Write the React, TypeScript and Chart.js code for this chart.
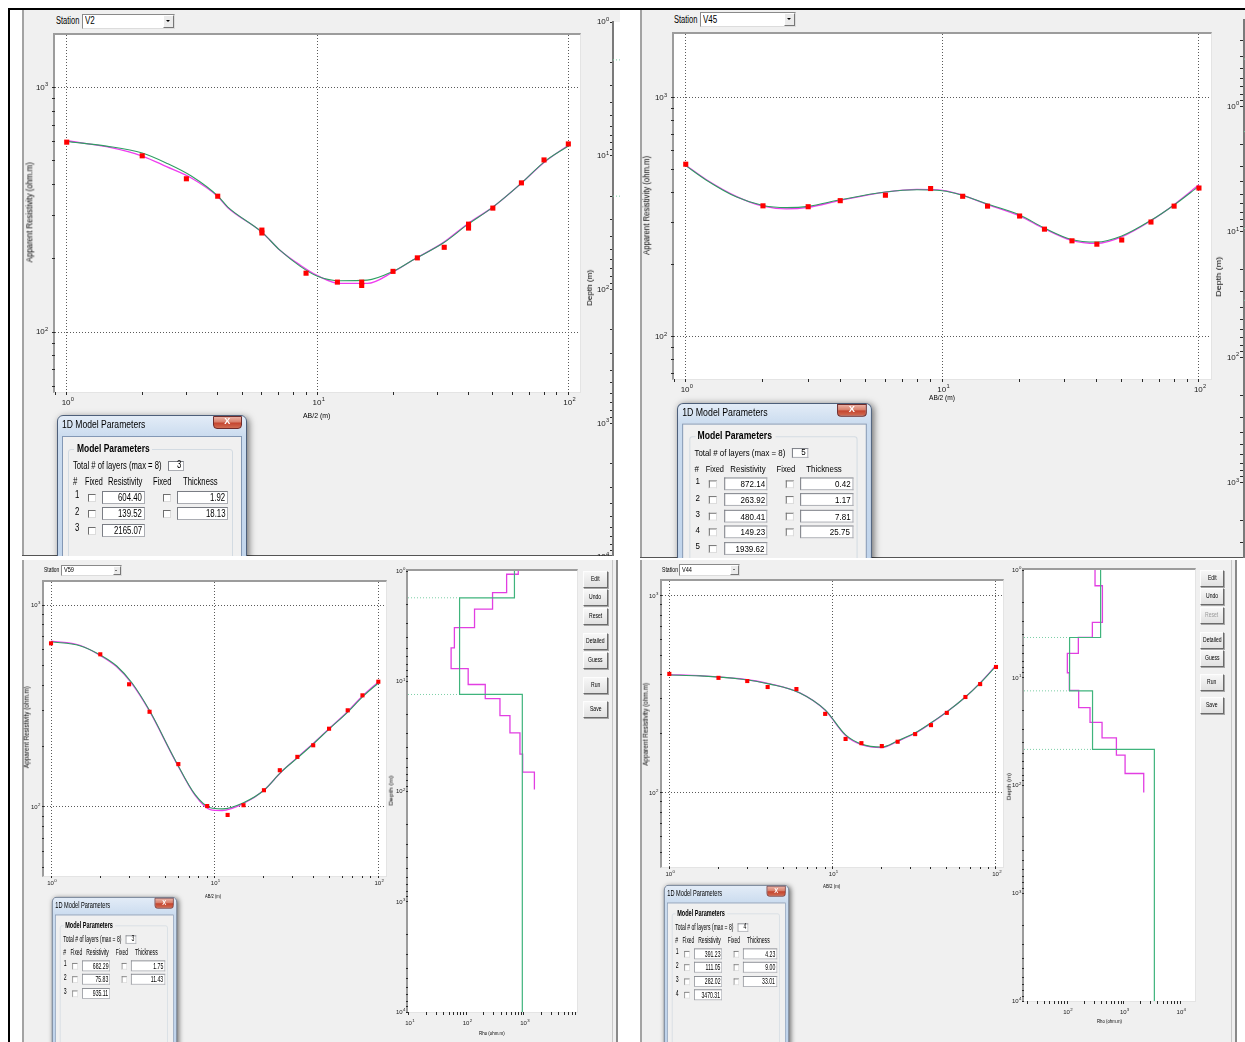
import React, { useEffect, useRef } from 'react';
import { Chart, registerables } from 'chart.js';
Chart.register(...registerables);

const FONT = '"Liberation Sans", Arial, Helvetica, sans-serif';

// ===== Station V2 =====
const V2_AB2 = [1, 2, 3, 4, 6, 6, 9, 12, 15, 15, 20, 25, 32, 40, 40, 50, 65, 80, 100];
const V2_RHO = [597, 525, 423, 359, 261, 254, 174, 160, 160, 155, 177, 201, 222, 276, 266, 321, 407, 505, 587];
const V2_CURVE_AB2 = [1, 1.44, 2, 2.5, 3.15, 4, 4.39, 6, 7.08, 8.51, 10, 12.3, 15.8, 20, 24, 31.7, 39.5, 50, 65, 80, 100];
const V2_GREEN = [601, 575, 539, 490, 433, 360, 324, 256, 216, 186, 169, 162, 163, 177, 197, 231, 274, 324, 406, 495, 576];
const V2_MAGENTA = [605, 572, 524, 474, 425, 358, 322, 256, 216, 188, 170, 158, 158, 176, 197, 232, 276, 324, 406, 493, 580];
const V2_LAYER_RHO = [604.4, 139.52, 2165.07];
const V2_LAYER_THICK = [1.92, 18.13];

// ===== Station V45 =====
const V45_AB2 = [1, 2, 3, 4, 6, 9, 12, 15, 20, 25, 32, 40, 50, 65, 80, 100];
const V45_RHO = [527, 353, 350, 371, 391, 417, 387, 352, 320, 282, 252, 244, 254, 302, 352, 419];
const V45_CURVE_AB2 = [1, 1.2, 1.58, 2, 2.47, 3, 4, 6, 7.96, 10, 11.75, 15, 20, 25, 31.6, 40, 50, 65, 80, 100];
const V45_GREEN = [520, 453, 384, 354, 347, 351, 374, 403, 412, 408, 393, 359, 323, 285, 256, 249, 264, 307, 356, 427];
const V45_MAGENTA = [522, 455, 386, 352, 343, 348, 372, 403, 414, 410, 394, 357, 320, 283, 254, 246, 262, 306, 357, 432];
const V45_LAYER_RHO = [872.14, 263.92, 480.41, 149.23, 1939.62];
const V45_LAYER_THICK = [0.42, 1.17, 7.81, 25.75];

// ===== Station V59 =====
const V59_AB2 = [1, 2, 3, 4, 6, 9, 12, 15, 20, 25, 32, 40, 50, 65, 80, 100];
const V59_RHO = [646, 570, 405, 296, 163, 101, 91.3, 102, 121, 152, 177, 202, 244, 301, 357, 417];
const V59_CURVE_AB2 = [1, 1.5, 2, 2.52, 3.12, 4, 5.73, 7.6, 9.4, 11.1, 15, 20, 25.5, 32.6, 40, 50, 65, 80, 100];
const V59_GREEN = [658, 629, 566, 499, 412, 300, 171, 115, 99, 97.8, 105, 121, 149, 177, 205, 243, 295, 351, 411];
const V59_MAGENTA = [662, 632, 562, 494, 408, 298, 170, 114, 97, 96, 104, 121, 149, 178, 206, 244, 297, 354, 416];
const V59_LAYER_RHO = [682.29, 75.83, 935.11];
const V59_LAYER_THICK = [1.75, 11.43];
const V59_SMOOTH_RHO = [795, 499, 284, 138, 61.6, 54, 107, 212, 382, 570, 851, 948, 1517];
const V59_SMOOTH_BOTTOM = [1.07, 1.57, 2.22, 3.26, 4.99, 7.68, 10.7, 14.4, 20.5, 29.4, 45.8, 66.8, 96];

// ===== Station V44 =====
const V44_AB2 = [1, 2, 3, 4, 6, 9, 12, 15, 20, 25, 32, 40, 50, 65, 80, 100];
const V44_RHO = [402, 384, 370, 345, 337, 252, 188, 179, 173, 182, 199, 221, 255, 307, 357, 436];
const V44_CURVE_AB2 = [1, 1.54, 2.71, 4.13, 6.3, 9, 12, 15, 20, 25, 32, 40, 50, 65, 80, 100];
const V44_GREEN = [397, 393, 379, 357, 322, 264, 197, 177, 171, 184, 202, 227, 258, 307, 361, 441];
const V44_MAGENTA = [399, 394, 380, 358, 322, 263, 196, 176, 170, 183, 201, 226, 258, 307, 362, 444];
const V44_LAYER_RHO = [391.23, 111.05, 282.02, 3470.31];
const V44_LAYER_THICK = [4.23, 9.0, 33.01];
const V44_SMOOTH_RHO = [312, 421, 280, 158.5, 101.4, 110, 160.6, 254.6, 415, 743, 1057, 2254];
const V44_SMOOTH_BOTTOM = [1.4, 3.06, 4.22, 5.94, 8.99, 13.1, 18.9, 26.0, 36.1, 52.3, 77.4, 116];

const BUTTONS = ['Edit', 'Undo', 'Reset', 'Detailed', 'Guess', 'Run', 'Save'];

// ---------- helpers ----------
function isDecade(v: number) {
  const l = Math.log10(v);
  return Math.abs(l - Math.round(l)) < 1e-6;
}
function logTicks(min: number, max: number) {
  const out: number[] = [];
  for (let e = Math.floor(Math.log10(min)); e <= Math.ceil(Math.log10(max)); e++) {
    for (let m = 1; m < 10; m++) {
      const v = Number((m * Math.pow(10, e)).toPrecision(6));
      if (v >= min && v <= max) out.push(v);
    }
  }
  return out;
}
function cumulative(th: number[]) {
  const out: number[] = [];
  let s = 0;
  th.forEach((t) => { s += t; out.push(s); });
  return out;
}
function stepPoints(rho: number[], bottoms: number[], top: number, base: number) {
  const pts: { x: number; y: number }[] = [];
  let d = top;
  for (let i = 0; i < rho.length; i++) {
    const next = i < bottoms.length ? bottoms[i] : base;
    pts.push({ x: rho[i], y: d });
    pts.push({ x: rho[i], y: next });
    d = next;
  }
  return pts;
}

const mctx = document.createElement('canvas').getContext('2d') as CanvasRenderingContext2D;
function measure(text: string, size: number, bold?: boolean) {
  mctx.font = `${bold ? 'bold ' : ''}${size}px ${FONT}`;
  return mctx.measureText(text).width || 1;
}

// Draws "10" with a raised exponent at every decade tick of the chart's own scales.
const supPlugin = {
  id: 'supLabels',
  afterDraw(chart: any, _a: any, opts: any) {
    const ctx = chart.ctx;
    const ca = chart.chartArea;
    ['x', 'y'].forEach((k) => {
      const o = opts[k];
      if (!o || o.show === false) return;
      const s = chart.scales[k];
      const f = o.font;
      ctx.save();
      ctx.fillStyle = '#1a1a1a';
      ctx.textAlign = 'left';
      ctx.textBaseline = 'alphabetic';
      for (const t of s.ticks) {
        if (!isDecade(t.value)) continue;
        const p = s.getPixelForValue(t.value);
        const e = String(Math.round(Math.log10(t.value)));
        ctx.font = `${f}px ${FONT}`;
        const w1 = ctx.measureText('10').width;
        ctx.font = `${f * 0.72}px ${FONT}`;
        const w2 = ctx.measureText(e).width;
        let x0: number, yb: number;
        if (k === 'y') {
          x0 = ca.left - o.tickLen - o.pad - w1 - w2;
          yb = p + f * 0.3;
        } else {
          x0 = p - (w1 + w2) / 2 + w2 * 0.3;
          yb = ca.bottom + o.tickLen + o.pad + f * 0.95;
        }
        ctx.font = `${f}px ${FONT}`;
        ctx.fillText('10', x0, yb);
        ctx.font = `${f * 0.72}px ${FONT}`;
        ctx.fillText(e, x0 + w1 + 0.3, yb - f * 0.42);
      }
      ctx.restore();
    });
  },
};

function Txt({ x, cy, text, size, w, sx, bold, color, anchor = 'left' }: any) {
  const nat = measure(text, size, bold);
  const s = w ? w / nat : sx ?? 0.8;
  const vis = nat * s;
  const left = anchor === 'left' ? x : anchor === 'right' ? x - vis : x - vis / 2;
  return (
    <div
      style={{
        position: 'absolute', left, top: cy - size * 0.62, height: size * 1.2, lineHeight: `${size * 1.2}px`,
        fontSize: size, fontFamily: FONT, fontWeight: bold ? 700 : 400, color: color ?? '#000',
        whiteSpace: 'nowrap', transform: `scaleX(${s})`, transformOrigin: '0 0',
      }}
    >
      {text}
    </div>
  );
}

function VText({ cx, cy, text, size, len }: any) {
  const nat = measure(text, size);
  const s = len / nat;
  return (
    <div
      style={{
        position: 'absolute', left: cx - nat / 2, top: cy - size * 0.6, width: nat, height: size * 1.2,
        lineHeight: `${size * 1.2}px`, fontSize: size, fontFamily: FONT, whiteSpace: 'nowrap', color: '#000',
        transform: `rotate(-90deg) scaleX(${s})`, transformOrigin: 'center',
      }}
    >
      {text}
    </div>
  );
}

function Box({ l, t, w, h, bg = '#fff', c = '#abadb3', ct = '#7a7d84' }: any) {
  return (
    <div
      style={{
        position: 'absolute', left: l, top: t, width: w, height: h, boxSizing: 'border-box', background: bg,
        border: `1px solid ${c}`, borderTopColor: ct, borderLeftColor: ct,
      }}
    />
  );
}

function Check({ l, t, s }: any) {
  return (
    <div
      style={{
        position: 'absolute', left: l, top: t, width: s, height: s, boxSizing: 'border-box', background: '#fff',
        border: '1px solid', borderColor: '#6f6f6f #dcdcdc #dcdcdc #6f6f6f',
      }}
    />
  );
}

function Frame({ a }: any) {
  return (
    <div
      style={{
        position: 'absolute', left: a.l - 2, top: a.t - 2, width: a.r - a.l + 3, height: a.b - a.t + 3,
        boxSizing: 'border-box', background: '#fff', borderTop: '2px solid #9c9c9c', borderLeft: '2px solid #9c9c9c',
        borderRight: '1px solid #e4e4e4', borderBottom: '1px solid #e4e4e4',
      }}
    />
  );
}

function axisOpts(a: any, size: number, horiz: boolean) {
  const tv = logTicks(a.min, a.max);
  return {
    type: 'logarithmic',
    display: a.show !== false,
    position: horiz ? 'bottom' : 'left',
    min: a.min,
    max: a.max,
    reverse: !!a.reverse,
    afterBuildTicks: (s: any) => { s.ticks = tv.map((v) => ({ value: v })); },
    afterFit: (s: any) => {
      if (a.show === false) return;
      if (horiz) s.height = size; else s.width = size;
    },
    ticks: { display: false, autoSkip: false, maxRotation: 0, minRotation: 0 },
    grid: {
      display: true, drawOnChartArea: !!a.grid, drawTicks: true, tickLength: a.tickLen ?? 3,
      tickColor: '#2a2a2a', tickWidth: 1, lineWidth: 1,
      color: (c: any) => (c.tick && isDecade(c.tick.value) ? '#5a5a5a' : 'rgba(0,0,0,0)'),
    },
    border: { display: !!a.line, color: '#7a7a7a', width: 2, dash: [1, 2] },
  };
}

function LogChart({ area, x, y, yW, xH, datasets }: any) {
  const ref = useRef<HTMLCanvasElement>(null);
  const PT = 14, PR = 14, PB = 4;
  const yw = y.show !== false ? yW : 0;
  const xh = x.show !== false ? xH : 0;
  const W = area.r - area.l + yw + PR;
  const H = area.b - area.t + PT + xh + PB;
  useEffect(() => {
    const chart = new Chart(ref.current as HTMLCanvasElement, {
      type: 'scatter',
      data: { datasets },
      plugins: [supPlugin],
      options: {
        animation: false, responsive: false, devicePixelRatio: 1, events: [],
        layout: { padding: { left: 0, top: PT, right: PR, bottom: PB } },
        plugins: {
          legend: { display: false }, tooltip: { enabled: false },
          supLabels: {
            x: { show: x.show, font: x.font ?? 8, tickLen: x.tickLen ?? 3, pad: x.pad ?? 3 },
            y: { show: y.show, font: y.font ?? 8, tickLen: y.tickLen ?? 3, pad: y.pad ?? 3 },
          },
        },
        scales: { x: axisOpts(x, xh, true), y: axisOpts(y, yw, false) },
      },
    } as any);
    return () => chart.destroy();
  }, []);
  return (
    <canvas ref={ref} width={W} height={H}
      style={{ position: 'absolute', left: area.l - yw, top: area.t - PT, width: W, height: H }} />
  );
}

function mainDatasets(cAB2: number[], green: number[], magenta: number[], ab2: number[], rho: number[], r: number) {
  return [
    { data: cAB2.map((x, i) => ({ x, y: magenta[i] })), showLine: true, borderColor: '#ef3cef', borderWidth: 1.3,
      pointRadius: 0, cubicInterpolationMode: 'monotone', order: 3 },
    { data: cAB2.map((x, i) => ({ x, y: green[i] })), showLine: true, borderColor: '#2e9e62', borderWidth: 1.1,
      pointRadius: 0, cubicInterpolationMode: 'monotone', order: 2 },
    { data: ab2.map((x, i) => ({ x, y: rho[i] })), showLine: false, pointStyle: 'rect', pointRadius: r,
      pointBackgroundColor: '#ff0000', pointBorderColor: '#ff0000', pointBorderWidth: 0, order: 1 },
  ];
}

function depthDatasets(lr: number[], lt: number[], xmin: number, sr?: number[], sb?: number[]) {
  const bottoms = cumulative(lt);
  const ds: any[] = bottoms.map((d, i) => ({
    data: [{ x: xmin, y: d }, { x: Math.min(lr[i], lr[i + 1]), y: d }], showLine: true,
    borderColor: '#7ccfa6', borderWidth: 1, borderDash: [1, 2], pointRadius: 0, order: 4,
  }));
  if (sr && sb) {
    ds.push({ data: stepPoints(sr, sb, 1, 1), showLine: true, borderColor: '#e23ee2', borderWidth: 1.3,
      pointRadius: 0, order: 3 });
  }
  ds.push({ data: stepPoints(lr, bottoms, 1, 10000), showLine: true, borderColor: '#3fb47c', borderWidth: 1.2,
    pointRadius: 0, order: 2 });
  return ds;
}

function Station({ lx, cy, lw, fs, box, value }: any) {
  const h = box.b - box.t;
  const aw = Math.round(h * 0.72);
  const tri = fs * 0.28;
  return (
    <>
      <Txt x={lx} cy={cy} text="Station" size={fs} w={lw} />
      <div style={{ position: 'absolute', left: box.l, top: box.t, width: box.r - box.l, height: h, boxSizing: 'border-box',
        background: '#fff', border: '1px solid', borderColor: '#8a8a8a #dcdcdc #dcdcdc #8a8a8a' }} />
      <div style={{ position: 'absolute', left: box.r - aw - 1, top: box.t + 1, width: aw, height: h - 2, boxSizing: 'border-box',
        background: '#ebebeb', border: '1px solid', borderColor: '#fff #777 #777 #fff' }} />
      <div style={{ position: 'absolute', left: box.r - 1 - aw / 2 - tri, top: box.t + h / 2 - tri * 0.4, width: 0, height: 0,
        borderLeft: `${tri}px solid transparent`, borderRight: `${tri}px solid transparent`, borderTop: `${tri}px solid #000` }} />
      <Txt x={box.l + 3} cy={cy} text={value} size={fs} sx={0.8} />
    </>
  );
}

function Dialog({ ox, oy, sx, sy, rho, thick }: any) {
  const n = rho.length;
  const fs = 10;
  const sc = 0.78;
  return (
    <div style={{ position: 'absolute', left: ox, top: oy, width: 190, height: 230, transform: `scale(${sx},${sy})`, transformOrigin: '0 0' }}>
      <div style={{ position: 'absolute', left: 0, top: 0, width: 190, height: 230, boxSizing: 'border-box',
        border: '1px solid #4d5f7a', borderRadius: '6px 6px 0 0',
        background: 'linear-gradient(180deg, #e3ecf7 0px, #cbdcef 20px, #bcd1ea 100%)', boxShadow: '2px 2px 7px rgba(0,0,0,0.55)' }} />
      <Txt x={5} cy={10} text="1D Model Parameters" size={10.5} w={83.3} />
      <div style={{ position: 'absolute', left: 156, top: 0.5, width: 29, height: 13, boxSizing: 'border-box',
        border: '1px solid #6d2b2b', borderRadius: '0 0 4px 4px',
        background: 'linear-gradient(180deg,#eab0a3 0%,#d8806c 45%,#c5452f 55%,#d06c52 100%)' }} />
      <Txt x={170.5} cy={6.8} text="X" size={9} sx={1} bold anchor="center" color="#fff" />
      <div style={{ position: 'absolute', left: 5, top: 21, width: 180.3, height: 209, boxSizing: 'border-box',
        background: '#f0f0f0', border: '1px solid #8398b5' }} />
      <div style={{ position: 'absolute', left: 11.6, top: 34.3, width: 164.7, height: 190, boxSizing: 'border-box',
        border: '1px solid #d3dbe2', borderRadius: 3 }} />
      <div style={{ position: 'absolute', left: 17.5, top: 29, width: 78, height: 10, background: '#f0f0f0' }} />
      <Txt x={20} cy={34} text="Model Parameters" size={10.5} bold w={72.6} />
      <Txt x={16.6} cy={50.7} text="Total # of  layers (max = 8)" size={fs} w={90.7} />
      <Box l={111.6} t={45.5} w={16} h={10.6} />
      <Txt x={125} cy={50.5} text={String(n)} size={fs} sx={sc} anchor="right" />
      <Txt x={16.6} cy={67.3} text="#" size={fs} sx={sc} />
      <Txt x={28.3} cy={67.3} text="Fixed" size={fs} w={17.7} />
      <Txt x={51.6} cy={67.3} text="Resistivity" size={fs} w={34.4} />
      <Txt x={96.6} cy={67.3} text="Fixed" size={fs} w={18.4} />
      <Txt x={126} cy={67.3} text="Thickness" size={fs} w={34.6} />
      {rho.map((r: number, i: number) => {
        const top = 75.7 + 16.5 * i;
        return (
          <React.Fragment key={i}>
            <Txt x={18.3} cy={top + 4.8} text={String(i + 1)} size={fs} sx={sc} />
            <Check l={31} t={top + 3} s={8.3} />
            <Box l={45.6} t={top} w={42.7} h={13.3} />
            <Txt x={85.6} cy={top + 7} text={r.toFixed(2)} size={fs} sx={sc} anchor="right" />
            {i < n - 1 && (
              <>
                <Check l={106} t={top + 3} s={8.3} />
                <Box l={120} t={top} w={51.6} h={13.3} />
                <Txt x={168.8} cy={top + 7} text={thick[i].toFixed(2)} size={fs} sx={sc} anchor="right" />
              </>
            )}
          </React.Fragment>
        );
      })}
    </div>
  );
}

function Buttons({ x, w, tops, fs, disabled }: any) {
  return (
    <>
      {BUTTONS.map((b, i) => (
        <React.Fragment key={b}>
          <div style={{ position: 'absolute', left: x, top: tops[i], width: w, height: 17, boxSizing: 'border-box',
            background: 'linear-gradient(#f7f7f7,#e1e1e1)', border: '1px solid', borderColor: '#fdfdfd #6b6b6b #6b6b6b #fdfdfd',
            boxShadow: '1px 1px 0 #a7a7a7' }} />
          <Txt x={x + w / 2} cy={tops[i] + 8.3} text={b} size={fs} sx={0.72} anchor="center"
            color={disabled === b ? '#9a9a9a' : '#000'} />
        </React.Fragment>
      ))}
    </>
  );
}

function Panel({ l, t, r, b, children }: any) {
  return (
    <div style={{ position: 'absolute', left: 0, top: 0, width: 1245, height: 1042,
      clipPath: `inset(${t}px ${1245 - r}px ${1042 - b}px ${l}px)` }}>
      <div style={{ position: 'absolute', left: l, top: t, width: r - l, height: b - t, background: '#f0f0f0' }} />
      <div style={{ position: 'absolute', left: l, top: t, width: 2, height: b - t, background: '#a3a3a3' }} />
      {children}
    </div>
  );
}

// ---------- layout constants ----------
const TL_MAIN = { l: 55, t: 35, r: 580, b: 392 };
const TL_DEPTH = { l: 613, t: 22, r: 782, b: 557 };
const TR_MAIN = { l: 674, t: 34, r: 1211, b: 379 };
const TR_DEPTH = { l: 1244, t: 20, r: 1414, b: 558 };
const BL_MAIN = { l: 44, t: 582, r: 386, b: 876 };
const BL_DEPTH = { l: 408, t: 571, r: 577, b: 1012 };
const BR_MAIN = { l: 662, t: 581, r: 1003, b: 867 };
const BR_DEPTH = { l: 1024, t: 570, r: 1195, b: 1001 };

export default function App() {
  const bigX = { font: 8, tickLen: 3, pad: 2, grid: true };
  const bigY = { font: 8, tickLen: 3, pad: 4, grid: true };
  const smX = { font: 6, tickLen: 2, pad: 1, grid: true };
  const smY = { font: 6, tickLen: 2, pad: 2, grid: true };
  return (
    <div style={{ position: 'absolute', left: 0, top: 0, width: 1245, height: 1042, overflow: 'hidden', background: '#fff' }}>
      <div style={{ position: 'absolute', left: 8, top: 8, width: 1237, height: 2, background: '#000' }} />
      <div style={{ position: 'absolute', left: 8, top: 8, width: 2, height: 1034, background: '#000' }} />

      {/* ---------- Top-left: V2 ---------- */}
      <Panel l={22} t={10} r={620} b={556}>
        <div style={{ position: 'absolute', left: 22, top: 555, width: 598, height: 1, background: '#555' }} />
        <Station lx={56} cy={21.5} lw={23.3} fs={10} box={{ l: 82, t: 14, r: 175, b: 29 }} value="V2" />
        <Frame a={TL_MAIN} />
        <LogChart area={TL_MAIN} x={{ ...bigX, min: 0.898, max: 111.3 }} y={{ ...bigY, min: 56.9, max: 1636 }} yW={33} xH={18}
          datasets={mainDatasets(V2_CURVE_AB2, V2_GREEN, V2_MAGENTA, V2_AB2, V2_RHO, 3.6)} />
        <Txt x={302.7} cy={415.7} text="AB/2 (m)" size={8} w={27.3} />
        <VText cx={30} cy={212} text="Apparent Resistivity (ohm.m)" size={9} len={100} />
        <div style={{ position: 'absolute', left: 614, top: 22, width: 8, height: 535, background: '#fff' }} />
        <LogChart area={TL_DEPTH} x={{ show: false, min: 9.61, max: 8356 }}
          y={{ min: 1, max: 10000, reverse: true, font: 8, tickLen: 3, pad: 1, line: true }} yW={26} xH={0}
          datasets={depthDatasets(V2_LAYER_RHO, V2_LAYER_THICK, 9.61)} />
        <VText cx={590} cy={288} text="Depth (m)" size={8} len={36} />
        <Dialog ox={56.7} oy={415} sx={1} sy={1} rho={V2_LAYER_RHO} thick={V2_LAYER_THICK} />
      </Panel>

      {/* ---------- Top-right: V45 ---------- */}
      <Panel l={640} t={10} r={1245} b={558}>
        <div style={{ position: 'absolute', left: 640, top: 557, width: 605, height: 1, background: '#555' }} />
        <Station lx={674.3} cy={19.7} lw={23.4} fs={10} box={{ l: 700, t: 12, r: 796, b: 27 }} value="V45" />
        <Frame a={TR_MAIN} />
        <LogChart area={TR_MAIN} x={{ ...bigX, min: 0.9, max: 111.4 }} y={{ ...bigY, min: 66.6, max: 1847 }} yW={33} xH={18}
          datasets={mainDatasets(V45_CURVE_AB2, V45_GREEN, V45_MAGENTA, V45_AB2, V45_RHO, 3.6)} />
        <Txt x={929} cy={398} text="AB/2 (m)" size={8} w={26} />
        <VText cx={647} cy={205} text="Apparent Resistivity (ohm.m)" size={9} len={99} />
        <LogChart area={TR_DEPTH} x={{ show: false, min: 9.61, max: 8356 }}
          y={{ min: 0.205, max: 3980, reverse: true, font: 8, tickLen: 4, pad: 1, line: true }} yW={28} xH={0}
          datasets={depthDatasets(V45_LAYER_RHO, V45_LAYER_THICK, 9.61)} />
        <VText cx={1219} cy={277} text="Depth (m)" size={8} len={40} />
        <Dialog ox={676.7} oy={403.3} sx={1.026} sy={0.98} rho={V45_LAYER_RHO} thick={V45_LAYER_THICK} />
      </Panel>

      {/* ---------- Bottom-left: V59 ---------- */}
      <Panel l={22} t={560} r={618} b={1042}>
        <div style={{ position: 'absolute', left: 612, top: 560, width: 1, height: 482, background: '#c8c8c8' }} />
        <div style={{ position: 'absolute', left: 616, top: 560, width: 2, height: 482, background: '#8a8a8a' }} />
        <Station lx={44} cy={570.7} lw={15.3} fs={7} box={{ l: 61, t: 565, r: 122, b: 576 }} value="V59" />
        <Frame a={BL_MAIN} />
        <LogChart area={BL_MAIN} x={{ ...smX, min: 0.906, max: 111.4 }} y={{ ...smY, min: 45.5, max: 1300 }} yW={22} xH={12}
          datasets={mainDatasets(V59_CURVE_AB2, V59_GREEN, V59_MAGENTA, V59_AB2, V59_RHO, 2.9)} />
        <Txt x={205} cy={896.5} text="AB/2 (m)" size={6} w={16} />
        <VText cx={27} cy={727} text="Apparent Resistivity (ohm.m)" size={7} len={82} />
        <Frame a={BL_DEPTH} />
        <LogChart area={BL_DEPTH} x={{ min: 9.61, max: 8356, font: 6, tickLen: 3, pad: 4 }}
          y={{ min: 1, max: 10000, reverse: true, font: 6, tickLen: 2, pad: 1 }} yW={14} xH={14}
          datasets={depthDatasets(V59_LAYER_RHO, V59_LAYER_THICK, 9.61, V59_SMOOTH_RHO, V59_SMOOTH_BOTTOM)} />
        <VText cx={391.7} cy={791} text="Depth (m)" size={6} len={30} />
        <Txt x={479.3} cy={1033.3} text="Rho (ohm.m)" size={6} w={25.7} />
        <Buttons x={583} w={25} tops={[571, 589, 608, 633, 652, 677, 701]} fs={7} />
        <Dialog ox={51.7} oy={897.3} sx={0.658} sy={0.835} rho={V59_LAYER_RHO} thick={V59_LAYER_THICK} />
      </Panel>

      {/* ---------- Bottom-right: V44 ---------- */}
      <Panel l={640} t={560} r={1237} b={1042}>
        <div style={{ position: 'absolute', left: 1231, top: 560, width: 1, height: 482, background: '#c8c8c8' }} />
        <div style={{ position: 'absolute', left: 1235, top: 560, width: 2, height: 482, background: '#8a8a8a' }} />
        <Station lx={662} cy={570} lw={16} fs={7} box={{ l: 679, t: 564, r: 740, b: 576 }} value="V44" />
        <Frame a={BR_MAIN} />
        <LogChart area={BR_MAIN} x={{ ...smX, min: 0.902, max: 110.4 }} y={{ ...smY, min: 42.1, max: 1191 }} yW={22} xH={12}
          datasets={mainDatasets(V44_CURVE_AB2, V44_GREEN, V44_MAGENTA, V44_AB2, V44_RHO, 2.9)} />
        <Txt x={822.7} cy={886.7} text="AB/2 (m)" size={6} w={17.3} />
        <VText cx={646} cy={724} text="Apparent Resistivity (ohm.m)" size={7} len={83} />
        <Frame a={BR_DEPTH} />
        <LogChart area={BR_DEPTH} x={{ min: 17.45, max: 18070, font: 6, tickLen: 3, pad: 4 }}
          y={{ min: 1, max: 10000, reverse: true, font: 6, tickLen: 2, pad: 1 }} yW={14} xH={14}
          datasets={depthDatasets(V44_LAYER_RHO, V44_LAYER_THICK, 17.45, V44_SMOOTH_RHO, V44_SMOOTH_BOTTOM)} />
        <VText cx={1009} cy={787} text="Depth (m)" size={6} len={27} />
        <Txt x={1096.7} cy={1021.7} text="Rho (ohm.m)" size={6} w={25} />
        <Buttons x={1200} w={24} tops={[570, 588, 607, 632, 650, 674, 697]} fs={7} disabled="Reset" />
        <Dialog ox={664} oy={885} sx={0.658} sy={0.835} rho={V44_LAYER_RHO} thick={V44_LAYER_THICK} />
      </Panel>
    </div>
  );
}
